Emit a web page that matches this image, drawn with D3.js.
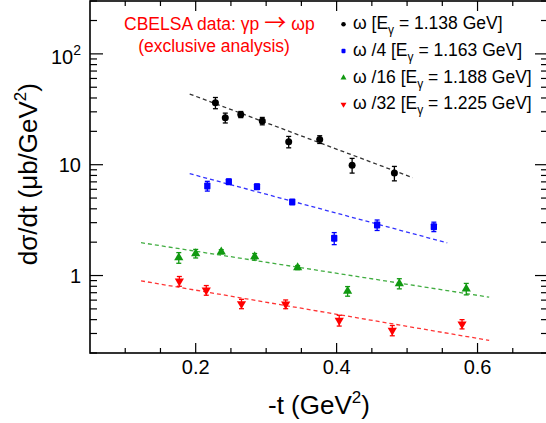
<!DOCTYPE html>
<html><head><meta charset="utf-8">
<script src="https://cdn.jsdelivr.net/npm/d3@7"></script>
<style>body{margin:0;background:#fff} svg{display:block;font-family:"Liberation Sans",Arial,sans-serif}</style>
</head><body><svg id="c" width="546" height="423"></svg>
<script>
// ---- data ----
const xMajorTicks = [0.2, 0.4, 0.6];
const xTickLabels = ["0.2", "0.4", "0.6"];
const yMajorTicks = [1, 10, 100];
const yTickLabels = ["1", "10", "10²"];

const seriesPrefix = ["ω", "ω /4", "ω /16", "ω /32"];
const seriesEnergy = ["1.138", "1.163", "1.188", "1.225"];
const seriesColor = ["#000000", "#0000ff", "#119911", "#ff0000"];
const seriesMarker = ["circle", "square", "triUp", "triDown"];

const t0 = [0.228, 0.242, 0.264, 0.2945, 0.332, 0.376, 0.422, 0.482];
const v0 = [36.2, 26.5, 28.4, 24.8, 16.1, 16.9, 9.9, 8.4];
const e0 = [4.2, 2.7, 1.8, 1.9, 1.9, 1.35, 1.5, 1.25];

const t1 = [0.2165, 0.247, 0.287, 0.337, 0.3966, 0.4575, 0.538];
const v1 = [6.43, 7.03, 6.34, 4.61, 2.17, 2.86, 2.76];
const e1 = [0.65, 0.37, 0.34, 0.19, 0.27, 0.31, 0.27];

const t2 = [0.176, 0.2, 0.2363, 0.2837, 0.3447, 0.4156, 0.489, 0.584];
const v2 = [1.45, 1.58, 1.64, 1.48, 1.18, 0.723, 0.847, 0.759];
const e2 = [0.16, 0.14, 0.07, 0.1, 0.05, 0.072, 0.089, 0.09];

const t3 = [0.1768, 0.215, 0.265, 0.3277, 0.4037, 0.479, 0.578];
const v3 = [0.89, 0.738, 0.556, 0.552, 0.394, 0.32, 0.365];
const e3 = [0.09, 0.074, 0.054, 0.05, 0.044, 0.034, 0.035];

// exponential fit lines (straight in log scale): endpoints
const fitT = [[0.1915, 0.508], [0.1915, 0.557], [0.1224, 0.6165], [0.1224, 0.6165]];
const fitV = [[43.4, 7.64], [8.3, 1.97], [1.98, 0.638], [0.896, 0.26]];

const titleParts = ["CBELSA data: γp", "→", "ωp"];
const titleLine2 = "(exclusive analysis)";

// ---- drawing ----
const svg = d3.select("#c");
const x = d3.scaleLinear().domain([0.05, 0.7]).range([90, 548]);
const y = d3.scaleLog().domain([0.2, 300]).range([353, 1]);

const T = [t0, t1, t2, t3], V = [v0, v1, v2, v3], E = [e0, e1, e2, e3];

// frame
svg.append("rect").attr("x", 90).attr("y", 1).attr("width", 458).attr("height", 352)
  .attr("fill", "none").attr("stroke", "#000").attr("stroke-width", 1.6);

// x ticks (bottom & top)
const xMinor = d3.range(0.1, 0.7, 0.05).map(d => +d.toFixed(2)).filter(d => !xMajorTicks.some(m => Math.abs(m - d) < 1e-6));
const tickG = svg.append("g").attr("stroke", "#000").attr("stroke-width", 1.2);
xMajorTicks.forEach(d => {
  tickG.append("line").attr("x1", x(d)).attr("x2", x(d)).attr("y1", 353).attr("y2", 343);
  tickG.append("line").attr("x1", x(d)).attr("x2", x(d)).attr("y1", 1).attr("y2", 11);
});
xMinor.forEach(d => {
  tickG.append("line").attr("x1", x(d)).attr("x2", x(d)).attr("y1", 353).attr("y2", 348);
  tickG.append("line").attr("x1", x(d)).attr("x2", x(d)).attr("y1", 1).attr("y2", 6);
});
// y ticks (left & right)
const yMinor = [];
[0.1, 1, 10, 100].forEach(dec => { for (let k = 2; k <= 9; k++) { const v = dec * k; if (v >= 0.2 && v <= 300) yMinor.push(v); } });
yMajorTicks.forEach(d => {
  tickG.append("line").attr("x1", 90).attr("x2", 103).attr("y1", y(d)).attr("y2", y(d));
  tickG.append("line").attr("x1", 548).attr("x2", 535).attr("y1", y(d)).attr("y2", y(d));
});
yMinor.forEach(d => {
  tickG.append("line").attr("x1", 90).attr("x2", 97).attr("y1", y(d)).attr("y2", y(d));
  tickG.append("line").attr("x1", 548).attr("x2", 541).attr("y1", y(d)).attr("y2", y(d));
});

// tick labels
xMajorTicks.forEach((d, i) => {
  svg.append("text").attr("x", x(d)).attr("y", 374).attr("text-anchor", "middle")
    .attr("font-size", 20).text(xTickLabels[i]);
});
yMajorTicks.forEach((d, i) => {
  const lab = yTickLabels[i];
  const t = svg.append("text").attr("x", 81).attr("text-anchor", "end").attr("font-size", 20);
  if (lab.endsWith("²")) {
    t.attr("y", y(d) + 10);
    t.append("tspan").text(lab.slice(0, -1));
    t.append("tspan").attr("dy", -9).attr("font-size", 14).text("2");
  } else {
    t.attr("y", y(d) + 7).text(lab);
  }
});

// axis titles
const xt = svg.append("text").attr("x", 268).attr("y", 414).attr("font-size", 26);
xt.append("tspan").text("-t (GeV");
xt.append("tspan").attr("dy", -11).attr("font-size", 17).text("2");
xt.append("tspan").attr("dy", 11).text(")");

const yt = svg.append("text").attr("transform", "translate(37,83) rotate(-90)")
  .attr("text-anchor", "end").attr("font-size", 26);
yt.append("tspan").text("dσ/dt (μb/GeV");
yt.append("tspan").attr("dy", -11).attr("font-size", 17).text("2");
yt.append("tspan").attr("dy", 11).text(")");

// fit lines
const line = d3.line().x(d => x(d[0])).y(d => y(d[1]));
fitT.forEach((ft, i) => {
  svg.append("path").datum(ft.map((t, j) => [t, fitV[i][j]]))
    .attr("d", line).attr("fill", "none").attr("stroke", seriesColor[i])
    .attr("stroke-opacity", 0.8).attr("stroke-width", 1.3).attr("stroke-dasharray", "4,3");
});

// markers
function marker(g, type, cx, cy, s, col) {
  if (type === "circle") {
    g.append("circle").attr("cx", cx).attr("cy", cy).attr("r", s * 0.5).attr("fill", col);
  } else if (type === "square") {
    g.append("rect").attr("x", cx - s * 0.45).attr("y", cy - s * 0.5).attr("width", s * 0.9).attr("height", s)
      .attr("rx", 1).attr("fill", col);
  } else {
    const sym = d3.symbol().type(d3.symbolTriangle).size(s * s * 0.75);
    g.append("path").attr("d", sym())
      .attr("transform", `translate(${cx},${cy})` + (type === "triDown" ? " rotate(180)" : ""))
      .attr("fill", col);
  }
}

T.forEach((ts, i) => {
  const g = svg.append("g");
  const col = seriesColor[i];
  ts.forEach((t, j) => {
    const cx = x(t), v = V[i][j], e = E[i][j];
    const yl = y(v - e), yh = y(v + e);
    g.append("line").attr("x1", cx).attr("x2", cx).attr("y1", yl).attr("y2", yh).attr("stroke", col).attr("stroke-width", 1.3);
    g.append("line").attr("x1", cx - 2.5).attr("x2", cx + 2.5).attr("y1", yl).attr("y2", yl).attr("stroke", col).attr("stroke-width", 1.3);
    g.append("line").attr("x1", cx - 2.5).attr("x2", cx + 2.5).attr("y1", yh).attr("y2", yh).attr("stroke", col).attr("stroke-width", 1.3);
    marker(g, seriesMarker[i], cx, y(v), 7, col);
  });
});

// title text
const tt = svg.append("text").attr("x", 124).attr("y", 30).attr("font-size", 17.5).attr("fill", "#ff0000");
tt.append("tspan").text(titleParts[0]);
tt.append("tspan").attr("dx", 5).attr("font-family", "Noto Sans CJK SC").attr("font-size", 22).text(titleParts[1]);
tt.append("tspan").attr("dx", 5).text(titleParts[2]);
svg.append("text").attr("x", 214).attr("y", 52).attr("text-anchor", "middle").attr("font-size", 17.5)
  .attr("fill", "#ff0000").text(titleLine2);

// legend
seriesPrefix.forEach((p, i) => {
  const ly = 29.3 + i * 26.7;
  marker(svg, seriesMarker[i], 343.5, ly - 5, 4.5, seriesColor[i]);
  const t = svg.append("text").attr("x", 353).attr("y", ly).attr("font-size", 17.5);
  t.append("tspan").text(p + " [E");
  t.append("tspan").attr("dy", 5).attr("font-size", 12).text("γ");
  t.append("tspan").attr("dy", -5).text(" = " + seriesEnergy[i] + " GeV]");
});
</script>
</body></html>
